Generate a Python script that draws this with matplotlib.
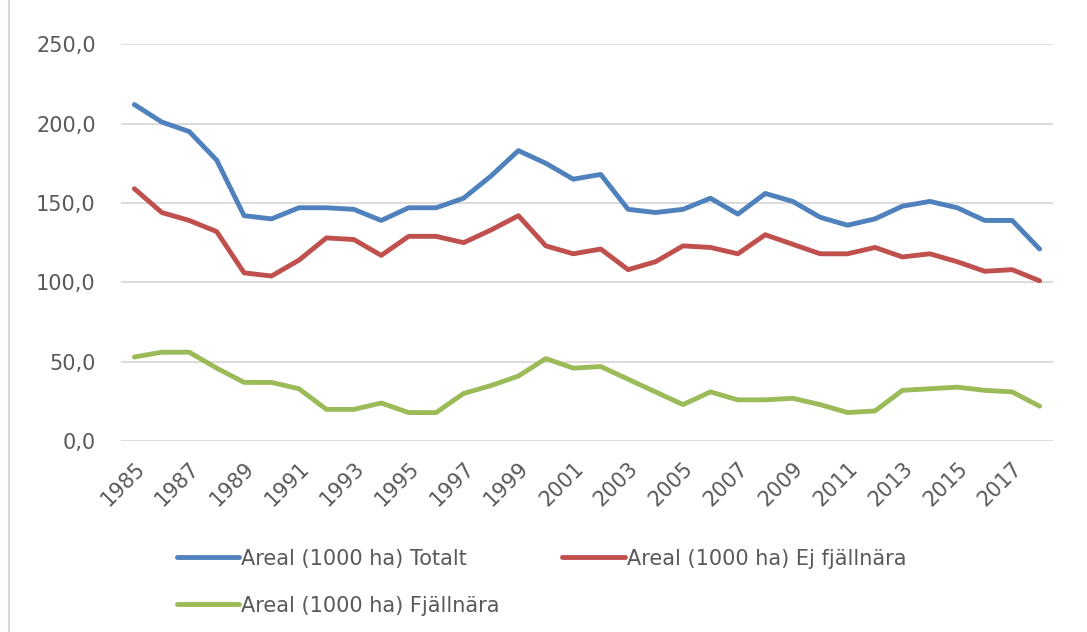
import matplotlib.pyplot as plt
from matplotlib.lines import Line2D
from matplotlib.ticker import FuncFormatter

years = list(range(1985, 2019))
totalt = [212, 201, 195, 177, 142, 140, 147, 147, 146, 139, 147, 147, 153, 167, 183,
          175, 165, 168, 146, 144, 146, 153, 143, 156, 151, 141, 136, 140, 148, 151,
          147, 139, 139, 121]
ej_fjallnara = [159, 144, 139, 132, 106, 104, 114, 128, 127, 117, 129, 129, 125, 133, 142,
                123, 118, 121, 108, 113, 123, 122, 118, 130, 124, 118, 118, 122, 116, 118,
                113, 107, 108, 101]
fjallnara = [53, 56, 56, 46, 37, 37, 33, 20, 20, 24, 18, 18, 30, 35, 41,
             52, 46, 47, 39, 31, 23, 31, 26, 26, 27, 23, 18, 19, 32, 33,
             34, 32, 31, 22]
series_names = ["Areal (1000 ha) Totalt", "Areal (1000 ha) Ej fjällnära",
                "Areal (1000 ha) Fjällnära"]
colors = ["#4F81BD", "#C0504D", "#9BBB59"]
yticks = [0, 50, 100, 150, 200, 250]
xlabels = [str(y) for y in years[::2]]

plt.rcParams['font.family'] = ['DejaVu Sans']
text_col = "#595959"

fig = plt.figure(figsize=(10.87, 6.32), dpi=100)
ax = fig.add_axes([0.111, 0.302, 0.858, 0.628])

x = list(range(len(years)))
for vals, name, c in zip([totalt, ej_fjallnara, fjallnara], series_names, colors):
    ax.plot(x, vals, color=c, lw=3.5, label=name, solid_capstyle='round',
            solid_joinstyle='round')

ax.set_xlim(-0.5, len(years) - 0.5)
ax.set_ylim(0, 250)
ax.set_yticks(yticks)
ax.yaxis.set_major_formatter(FuncFormatter(lambda v, p: f"{v:.1f}".replace(".", ",")))
ax.set_xticks(x[::2])
ax.set_xticklabels(xlabels, rotation=45, ha='right', rotation_mode='anchor')
ax.tick_params(axis='both', length=0, labelsize=15, colors=text_col)
ax.tick_params(axis='y', pad=18)
ax.tick_params(axis='x', pad=12)
ax.grid(axis='y', color='#D9D9D9', lw=1.3)
ax.set_axisbelow(True)
for s in ax.spines.values():
    s.set_visible(False)

handles, labels = ax.get_legend_handles_labels()
order = [0, 2, 1]
leg = fig.legend([handles[i] for i in order], [labels[i] for i in order],
                 loc='upper left', bbox_to_anchor=(0.155, 0.145), ncol=2,
                 frameon=False, fontsize=15, handlelength=3.0, handletextpad=0.1,
                 columnspacing=3.0, labelspacing=1.3, borderaxespad=0)
for t in leg.get_texts():
    t.set_color(text_col)

fig.add_artist(Line2D([0.008, 0.008], [0, 1], transform=fig.transFigure,
                      color='#D9D9D9', lw=1.5))

fig.savefig("out.png", dpi=100)
